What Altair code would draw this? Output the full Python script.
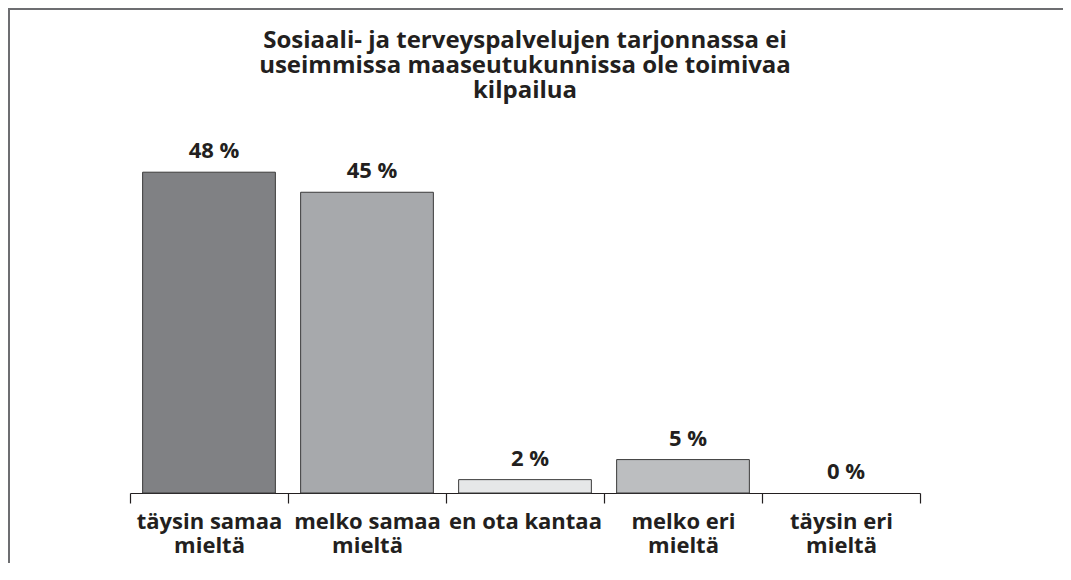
import altair as alt
import pandas as pd

categories = ["täysin samaa|mieltä", "melko samaa|mieltä", "en ota kantaa", "melko eri|mieltä", "täysin eri|mieltä"]
values = [48, 45, 2, 5, 0]
value_labels = ["48 %", "45 %", "2 %", "5 %", "0 %"]
bar_colors = ["#808184", "#a7a9ac", "#e6e7e8", "#bcbec0", "#ffffff"]
title_lines = ["Sosiaali- ja terveyspalvelujen tarjonnassa ei",
               "useimmissa maaseutukunnissa ole toimivaa",
               "kilpailua"]

df = pd.DataFrame({"cat": categories, "val": values, "lab": value_labels})

FONT = "Open Sans"
INK = "#231f20"

x = alt.X("cat:N", sort=categories, title=None,
          scale=alt.Scale(paddingInner=0, paddingOuter=0),
          axis=alt.Axis(labelExpr="split(datum.label, '|')", labelAngle=0,
                        labelFontSize=22, labelFontWeight="bold", labelFont=FONT,
                        labelColor=INK, labelLineHeight=24, labelPadding=8,
                        tickBand="extent", ticks=True, tickSize=10, tickColor=INK,
                        domainColor=INK, domainWidth=1.2, tickWidth=1.2,
                        labelLimit=300, grid=False))
y = alt.Y("val:Q", scale=alt.Scale(domain=[0, 60]), axis=None)

frame = alt.Chart(df).mark_rect(fill=None, stroke="#6d6e71", strokeWidth=2).encode(
    x=alt.value(-121), x2=alt.value(1100), y=alt.value(-83), y2=alt.value(700)
).transform_filter("datum.val == 48")

bars = alt.Chart(df).mark_bar(stroke="#3a3a3a", strokeWidth=1,
                              width={"band": 0.84}).encode(
    x=x, y=y,
    color=alt.Color("cat:N", sort=categories,
                    scale=alt.Scale(domain=categories, range=bar_colors), legend=None)
).transform_filter("datum.val > 0")

texts = alt.Chart(df).mark_text(baseline="bottom", dy=-9, dx=5, fontSize=22,
                                fontWeight="bold", font=FONT, color=INK).encode(
    x=x, y=y, text="lab:N"
)

title = alt.Chart(df).mark_text(text=title_lines, fontSize=24, font=FONT,
                                fontWeight="bold", color=INK, lineHeight=25,
                                baseline="middle", align="center").encode(
    x=alt.value(395), y=alt.value(-51)
).transform_filter("datum.val == 48")

chart = alt.layer(frame, bars, texts, title).properties(
    width=790, height=401,
    autosize=alt.AutoSizeParams(type="none"),
    padding={"left": 122, "top": 84, "right": 143, "bottom": 70},
).configure_view(stroke=None)

chart.save("out.html", embed_options={"renderer": "svg", "actions": False})
